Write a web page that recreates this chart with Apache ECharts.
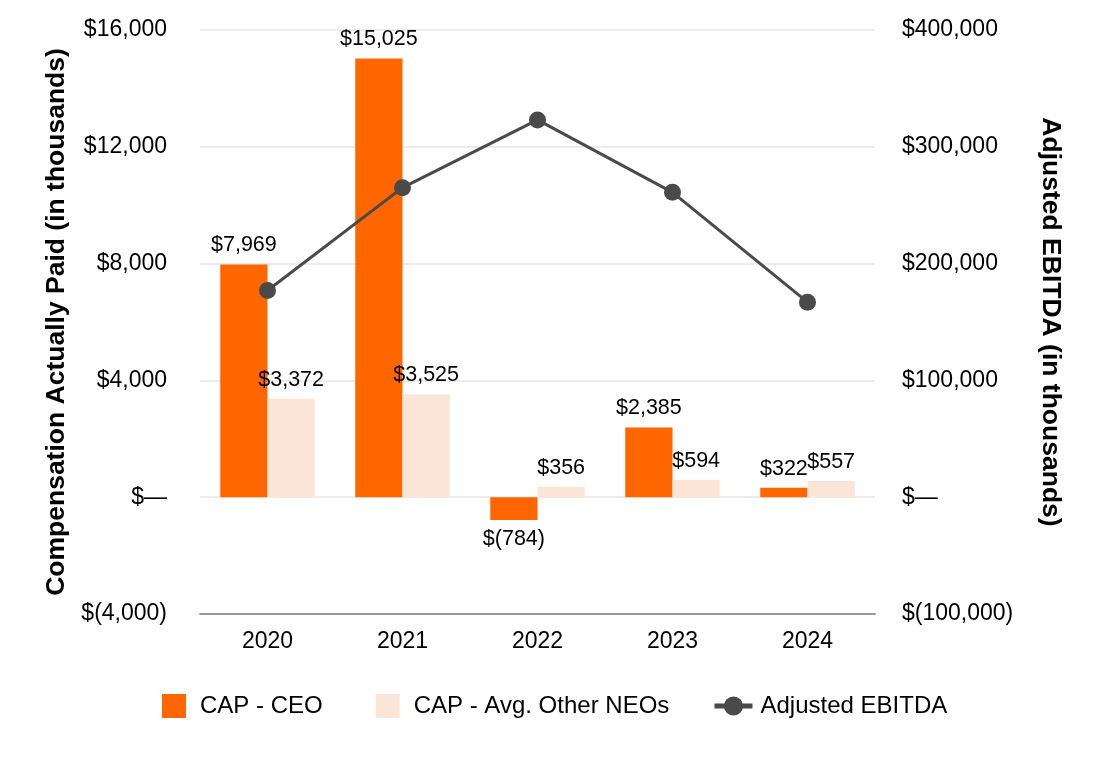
<!DOCTYPE html>
<html>
<head>
<meta charset="utf-8">
<script src="https://cdn.jsdelivr.net/npm/echarts@6/dist/echarts.min.js"></script>
<style>html,body{margin:0;padding:0;background:#fff;}#c{width:1100px;height:760px;}</style>
</head>
<body>
<div id="c"></div>
<script>
var years = ['2020', '2021', '2022', '2023', '2024'];
var capCEO = [7969, 15025, -784, 2385, 322];
var capNEO = [3372, 3525, 356, 594, 557];
var ebitda = [177000, 265000, 323000, 261000, 167000];
var seriesNames = ['CAP - CEO', 'CAP - Avg. Other NEOs', 'Adjusted EBITDA'];

var FONT = '"Liberation Sans", Arial, Helvetica, sans-serif';
function money(v) {
  if (v === 0) return '$\u2014';
  var s = Math.abs(v).toLocaleString('en-US');
  return v < 0 ? '$(' + s + ')' : '$' + s;
}
var chart = echarts.init(document.getElementById('c'));
chart.setOption({
  backgroundColor: '#fff',
  textStyle: { fontFamily: FONT },
  grid: { left: 200, right: 225, top: 30, bottom: 146 },
  legend: [{
    left: 162, top: 694, padding: 0,
    itemWidth: 24, itemHeight: 24, itemGap: 53, icon: 'rect',
    textStyle: { fontSize: 24, color: '#000', fontFamily: FONT, padding: [0, 0, 0, 9] },
    data: [seriesNames[0], seriesNames[1]]
  }, {
    left: 712, top: 694, padding: 0,
    itemWidth: 38, itemHeight: 24,
    lineStyle: { width: 5 },
    textStyle: { fontSize: 24, color: '#000', fontFamily: FONT, padding: [0, 0, 0, 3] },
    data: [seriesNames[2]]
  }],
  xAxis: {
    type: 'category', data: years,
    axisLine: { onZero: false, lineStyle: { color: '#999', width: 2 } },
    axisTick: { show: false },
    axisLabel: { fontSize: 23, color: '#000', margin: 16, fontFamily: FONT }
  },
  yAxis: [{
    type: 'value', min: -4000, max: 16000, interval: 4000,
    name: 'Compensation Actually Paid (in thousands)',
    nameLocation: 'middle', nameGap: 126,
    nameTextStyle: { fontSize: 26.5, fontWeight: 'bold', color: '#000', fontFamily: FONT },
    axisLine: { show: false }, axisTick: { show: false },
    axisLabel: { fontSize: 23, color: '#000', margin: 33, formatter: money, fontFamily: FONT },
    splitLine: { lineStyle: { color: '#e6e6e6', width: 1.5 } }
  }, {
    type: 'value', min: -100000, max: 400000, interval: 100000,
    name: 'Adjusted EBITDA (in thousands)',
    nameLocation: 'middle', nameGap: 162, nameRotate: -90,
    nameTextStyle: { fontSize: 26.5, fontWeight: 'bold', color: '#000', fontFamily: FONT },
    axisLine: { show: false }, axisTick: { show: false },
    axisLabel: { fontSize: 23, color: '#000', margin: 27, formatter: money, fontFamily: FONT },
    splitLine: { show: false }
  }],
  series: [{
    name: seriesNames[0], type: 'bar', barGap: '0%', barCategoryGap: '30%',
    itemStyle: { color: '#FF6600' },
    data: capCEO.map(function (v) {
      return { value: v, label: { position: v < 0 ? 'bottom' : 'top' } };
    }),
    label: { show: true, fontSize: 21.5, color: '#000', distance: 8, fontFamily: FONT,
      formatter: function (p) { return money(p.value); } }
  }, {
    name: seriesNames[1], type: 'bar',
    itemStyle: { color: '#FBE5D6' },
    data: capNEO,
    label: { show: true, position: 'top', fontSize: 21.5, color: '#000', distance: 8, fontFamily: FONT,
      formatter: function (p) { return money(p.value); } }
  }, {
    name: seriesNames[2], type: 'line', yAxisIndex: 1,
    data: ebitda, symbol: 'circle', symbolSize: 17,
    lineStyle: { color: '#4a4a4a', width: 3 },
    itemStyle: { color: '#4a4a4a' }
  }]
});
</script>
</body>
</html>
